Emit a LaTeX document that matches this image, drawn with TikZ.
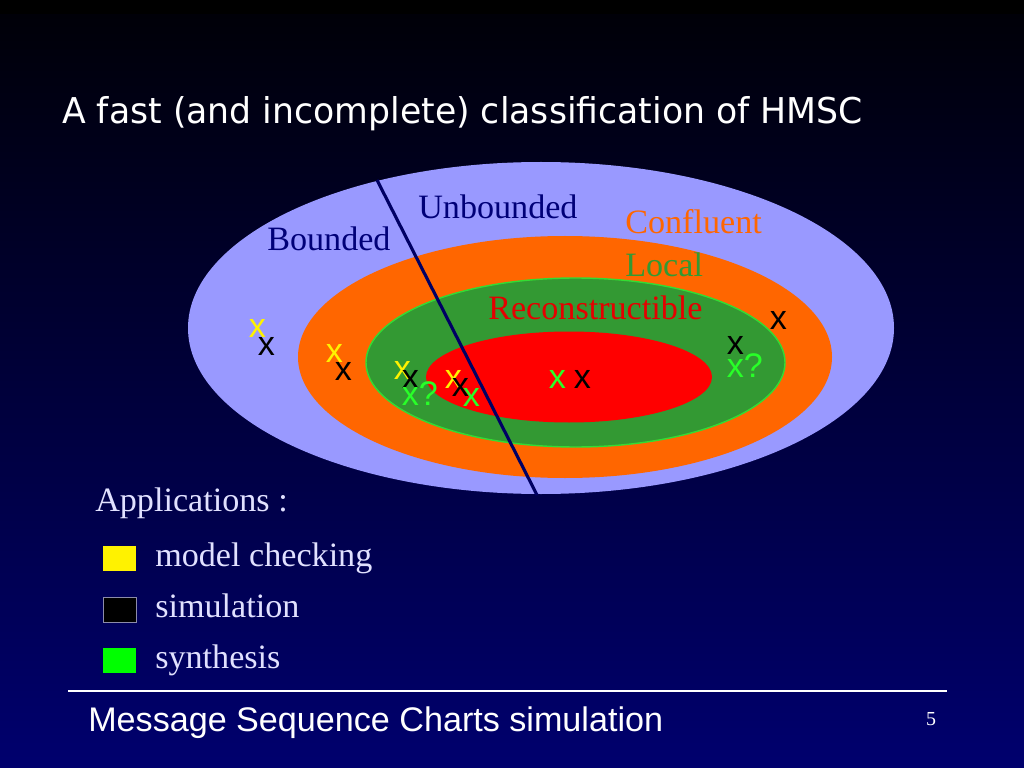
\documentclass[tikz,border=0pt]{standalone}
\usepackage{fontspec}
\setmainfont{Liberation Serif}
\setsansfont{Liberation Sans}
\newfontfamily\titlefont{DejaVu Sans}
\definecolor{periwinkle}{RGB}{153,153,255}
\definecolor{pptorange}{RGB}{255,102,0}
\definecolor{pptgreen}{RGB}{51,153,51}
\definecolor{rimgreen}{RGB}{51,220,51}
\definecolor{brightgreen}{RGB}{40,255,40}
\definecolor{navytext}{RGB}{0,0,120}
\definecolor{navyline}{RGB}{0,0,100}
\definecolor{paletext}{RGB}{225,225,255}
\tikzset{
	label24/.style={font=\fontsize{24}{24}\selectfont, inner sep=0pt, anchor=base west},
	cross/.style={font=\sffamily\fontsize{24}{24}\selectfont, inner sep=0pt, anchor=base west},
	swatch/.style={minimum width=23.2pt, minimum height=17.6pt, inner sep=0pt, anchor=north west}
}
\begin{document}
\begin{tikzpicture}[x=0.703125pt, y=-0.703125pt]
	% Slide background
	\useasboundingbox (0,0) rectangle (1024,768);
	\fill [black] (0,0) rectangle (1024,16);
	\shade [top color={rgb,255:red,0;green,0;blue,8}, middle color={rgb,255:red,0;green,0;blue,85}, bottom color={rgb,255:red,0;green,0;blue,110}] (0,15) rectangle (1024,768);
	% Title
	\node [anchor=base west, inner sep=0pt, text=white] (title) at (62,124) {\titlefont\fontsize{25}{25}\selectfont\scalebox{0.975}[1]{A fast (and incomplete) classification of HMSC}};
	
	% Classes
	\fill [periwinkle] (541,328) ellipse [x radius=353, y radius=166];
	\fill [pptorange] (565,357) ellipse [x radius=267, y radius=121];
	\filldraw [fill=pptgreen, draw=rimgreen, line width=1] (575.5,362.5) ellipse [x radius=209.5, y radius=84.5];
	\fill [red] (569,377) ellipse [x radius=143, y radius=45.5];
	
	% Bounded / unbounded split
	\coordinate (cuttop) at (377,180);
	\coordinate (cutbot) at (537,495);
	\draw [navyline, line width=2.2] (cuttop) -- (cutbot);
	
	% Class names
	\node [label24, text=navytext] (bounded) at (267,251) {Bounded};
	\node [label24, text=navytext] (unbounded) at (418,219) {Unbounded};
	\node [label24, text=pptorange] (confluent) at (625,234) {Confluent};
	\node [label24, text=pptgreen] (local) at (625,277) {Local};
	\node [label24, text=red!90!black] (reconstr) at (488,319) {Reconstructible};
	
	% Results
	\node [cross, text=yellow] (y1) at (248.5,337) {x};
	\node [cross, text=black] (b1) at (257.5,355) {x};
	\node [cross, text=yellow] (y2) at (325.5,362) {x};
	\node [cross, text=black] (b2) at (334.5,380) {x};
	\node [cross, text=yellow] (y3) at (393.5,379) {x};
	\node [cross, text=black] (b3) at (401.5,388) {x};
	\node [cross, text=brightgreen] (g3) at (401.5,405) {x?};
	\node [cross, text=yellow] (y4) at (444.5,388) {x};
	\node [cross, text=black] (b4) at (451.5,396) {x};
	\node [cross, text=brightgreen] (g4) at (462.5,406) {x};
	\node [cross, text=brightgreen] (g5) at (548.5,388) {x};
	\node [cross, text=black] (b5) at (573.5,388) {x};
	\node [cross, text=black] (b6) at (769.5,329) {x};
	\node [cross, text=black] (b7) at (726.5,354) {x};
	\node [cross, text=brightgreen] (g7) at (726.5,377) {x?};
	
	% Legend
	\node [label24, text=paletext] (apps) at (95,511) {Applications :};
	\node [swatch, fill=yellow] (swy) at (103,546) {};
	\node [swatch, fill=black, draw={rgb,255:red,140;green,140;blue,170}, line width=1] (swb) at (103,597) {};
	\node [swatch, fill={rgb,255:red,0;green,255;blue,0}] (swg) at (103,648) {};
	\node [label24, text=paletext] (modelchk) at (155,566) {model checking};
	\node [label24, text=paletext] (simul) at (155,617) {simulation};
	\node [label24, text=paletext] (synth) at (155,668) {synthesis};
	
	% Footer
	\coordinate (ruleL) at (68,691);
	\coordinate (ruleR) at (947,691);
	\draw [white, line width=2] (ruleL) -- (ruleR);
	\node [anchor=base west, inner sep=0pt, text=white, font=\sffamily\fontsize{24}{24}\selectfont] (footer) at (88,731) {Message Sequence Charts simulation};
	\node [anchor=base, inner sep=0pt, text=white, font=\fontsize{14}{14}\selectfont] (pageno) at (931,725) {5};
\end{tikzpicture}
\end{document}
